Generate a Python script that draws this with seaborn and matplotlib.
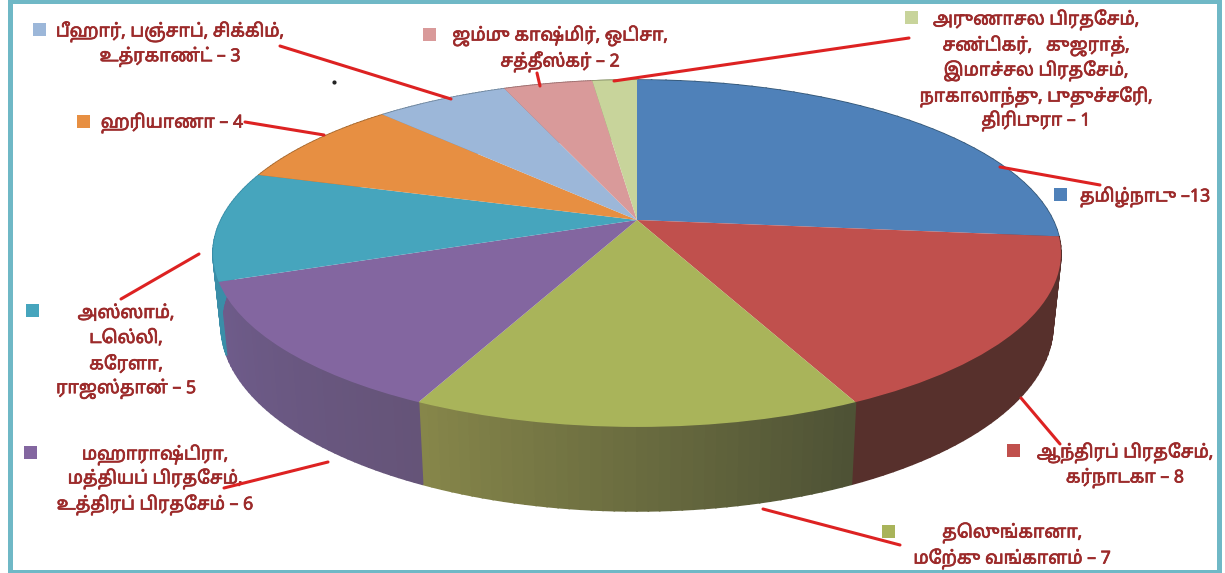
import numpy as np
import matplotlib
matplotlib.use("Agg")
import matplotlib.pyplot as plt
import matplotlib.patheffects as pe
from matplotlib import font_manager as fm
from matplotlib.colors import to_rgb
from matplotlib.patches import Rectangle
from matplotlib.transforms import Transform
import seaborn as sns

states = ["தமிழ்நாடு", "ஆந்திரப் பிரதேசம், கர்நாடகா", "தெலுங்கானா, மேற்கு வங்காளம்",
          "மஹாராஷ்டிரா, மத்தியப் பிரதேசம், உத்திரப் பிரதேசம்",
          "அஸ்ஸாம், டெல்லி, கேரளா, ராஜஸ்தான்", "ஹரியாணா",
          "பீஹார், பஞ்சாப், சிக்கிம், உத்ரகாண்ட்", "ஜம்மு காஷ்மிர், ஒடிசா, சத்தீஸ்கர்",
          "அருணாசல பிரதேசம், சண்டிகர், குஜராத், இமாச்சல பிரதேசம், நாகாலாந்து, புதுச்சேரி, திரிபுரா"]
values = [13, 8, 7, 6, 5, 4, 3, 2, 1]
palette = ["#4f81b9", "#c0504d", "#a9b45a", "#8366a0", "#46a5bd",
           "#e78f42", "#9cb7d9", "#d99a9a", "#c8d49b"]
wall_low = ["#355878", "#57302c", "#86864a", "#6f5c8c", "#3a8ea8",
            "#a86a30", "#7088a0", "#a07070", "#909a70"]
wall_high = ["#355878", "#57302c", "#4e5235", "#655478", "#3a8ea8",
             "#a86a30", "#7088a0", "#a07070", "#909a70"]

label_lines = [
    ["தமிழ்நாடு –13"],
    ["ஆந்திரப் பிரதேசம்,", "கர்நாடகா – 8"],
    ["தெலுங்கானா,", "மேற்கு வங்காளம் – 7"],
    ["மஹாராஷ்டிரா,", "மத்தியப் பிரதேசம்,", "உத்திரப் பிரதேசம் – 6"],
    ["அஸ்ஸாம்,", "டெல்லி,", "கேரளா,", "ராஜஸ்தான் – 5"],
    ["ஹரியாணா – 4"],
    ["பீஹார், பஞ்சாப், சிக்கிம்,", "உத்ரகாண்ட் – 3"],
    ["ஜம்மு காஷ்மிர், ஒடிசா,", "சத்தீஸ்கர் – 2"],
    ["அருணாசல பிரதேசம்,", "சண்டிகர்,   குஜராத்,", "இமாச்சல பிரதேசம்,",
     "நாகாலாந்து, புதுச்சேரி,", "திரிபுரா – 1"],
]
label_x = [1145, 1125, 1012, 155, 126, 172, 170, 560, 1036]
label_y = [[197], [453, 478], [533, 559], [455, 479, 505], [313, 338, 364, 389],
           [123], [32, 57], [36, 62], [20, 46, 71, 97, 121]]
square_x = [1060, 1013, 888, 30, 32, 83, 39, 429, 911]
square_y = [194, 450, 531, 452, 310, 121, 29, 34, 17]
leaders = [[(1000, 167), (1100, 185)], [(1021, 398), (1060, 444)], [(763, 509), (900, 545)],
           [(328, 462), (224, 488)], [(199, 254), (121, 299)], [(245, 122), (324, 135)],
           [(280, 46), (451, 99)], [(537, 73), (540, 86)], [(909, 38), (614, 81)]]


class Perspective(Transform):
    """Tilted-disc projection of the unit pie onto image coordinates."""
    input_dims = output_dims = 2
    is_affine = False
    has_inverse = False

    def transform_non_affine(self, xy):
        xy = np.asarray(xy, float)
        s = 1.0 / (1.0 + 0.193 * xy[:, 1])
        return np.column_stack((637 + 416 * xy[:, 0] * s, 220 - 167 * xy[:, 1] * s))


sns.set_theme(style="white")
names = {f.name for f in fm.fontManager.ttflist}
tamil = [n for n in names if "Tamil" in n]
plt.rcParams["font.family"] = tamil + ["Noto Sans", "DejaVu Sans"]

fig = plt.figure(figsize=(12.25, 5.73), dpi=100, facecolor="white")
ax = fig.add_axes([0, 0, 1, 1])

wedges, _ = ax.pie(values, colors=palette, startangle=90, counterclock=False,
                   radius=1, wedgeprops={"linewidth": 0, "zorder": 3})
ax.set_aspect("auto")
ax.set_xlim(0, 1225)
ax.set_ylim(573, 0)
ax.axis("off")

persp = Perspective()
for w in wedges:
    w.set_transform(persp + ax.transData)
    w.set_clip_on(False)


def rim(theta):
    t = np.radians(theta)
    top = persp.transform(np.column_stack((np.cos(t), np.sin(t))))
    bottom = np.column_stack((637 + (top[:, 0] - 637) * 416 / 424,
                              325 + (top[:, 1] - 253.5) * 186 / 173.5))
    return top, bottom


for w, lo, hi in zip(wedges, wall_low, wall_high):
    th = np.linspace(w.theta1, w.theta2, 41)
    top, bottom = rim(th)
    lo_c, hi_c = np.array(to_rgb(lo)), np.array(to_rgb(hi))
    for i in range(40):
        f = i / 39
        c = lo_c + (hi_c - lo_c) * f
        ax.fill([top[i, 0], top[i + 1, 0], bottom[i + 1, 0], bottom[i, 0]],
                [top[i, 1], top[i + 1, 1], bottom[i + 1, 1], bottom[i, 1]],
                color=c, lw=1.2, zorder=2)

text_color = "#9c2a2a"
for lines, x, ys, sx, sy, col, seg in zip(label_lines, label_x, label_y, square_x,
                                          square_y, palette, leaders):
    for line, y in zip(lines, ys):
        ax.text(x, y, line, ha="center", va="center", fontsize=12.8, color=text_color, zorder=5,
                path_effects=[pe.withStroke(linewidth=0.5, foreground=text_color)])
    ax.add_patch(Rectangle((sx - 6.5, sy - 6.5), 13, 13, facecolor=col, lw=0, zorder=5))
    ax.plot([seg[0][0], seg[1][0]], [seg[0][1], seg[1][1]], color="#dd2222", lw=2.2,
            solid_capstyle="round", zorder=6)

ax.plot([334], [82], marker="o", ms=2, color="#222222", zorder=5)

for rect in [(8, 0, 5, 573), (1217, 0, 5, 573), (8, 0, 1214, 4), (8, 570, 1214, 3)]:
    ax.add_patch(Rectangle(rect[:2], rect[2], rect[3], facecolor="#6fb8c6", lw=0, zorder=7))

fig.savefig("out.png", dpi=100)
